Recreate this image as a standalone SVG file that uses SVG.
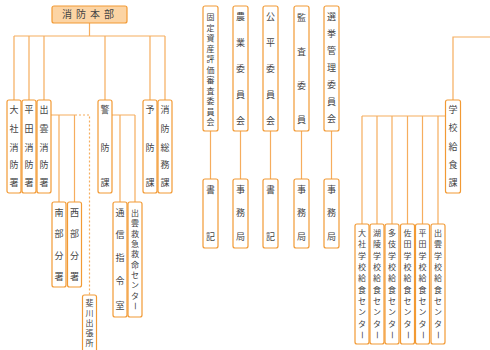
<svg xmlns="http://www.w3.org/2000/svg" width="490" height="350" viewBox="0 0 490 350">
<style>
.b{fill:#fff;stroke:#f29a34;stroke-width:1.2}
.l{fill:none;stroke:#f6ad5e;stroke-width:1.2}
.d{fill:none;stroke:#f6ad5e;stroke-width:1.2;stroke-dasharray:2 2}
text{font-family:"Noto Sans CJK JP","Noto Sans",sans-serif;font-size:9px;fill:#444;text-anchor:middle}
text.s{font-size:8px}
</style>
<rect width="490" height="350" fill="#fff"/>
<g id="connectors">
<path class="l" d="M89.5 23V36M14 36H165M14 36V100M29 36V100M44 36V100M105 36V100M150 36V100M165 36V100"/>
<path class="l" d="M51 115H75M59 115V202M74.5 115V202"/>
<path class="d" d="M75 115H89.5V295"/>
<path class="l" d="M112 115H135M120 115V202M135 115V202"/>
<path class="l" d="M210.5 131V179M240.5 131V179M270.5 131V179M301.5 131V179M331.5 131V179"/>
<path class="l" d="M490 37H453V100"/>
<path class="l" d="M362 116H445M362 116V224M377 116V224M392 116V224M407.5 116V224M422.5 116V224M438 116V224"/>
</g>
<g id="honbu"><rect class="b" x="52" y="6" width="75" height="17" rx="2" style="fill:#fcd4a4"/><text x="90" y="18" style="font-size:10px;letter-spacing:4px">消防本部</text></g>
<g id="taisha"><rect class="b" x="7" y="100" width="14" height="93" rx="2"/><text><tspan x="14" y="113.4">大</tspan><tspan x="14" y="132.4">社</tspan><tspan x="14" y="151.4">消</tspan><tspan x="14" y="168.4">防</tspan><tspan x="14" y="186.4">署</tspan></text></g>
<g id="hirata"><rect class="b" x="22" y="100" width="14" height="93" rx="2"/><text><tspan x="29" y="113.4">平</tspan><tspan x="29" y="132.4">田</tspan><tspan x="29" y="151.4">消</tspan><tspan x="29" y="168.4">防</tspan><tspan x="29" y="186.4">署</tspan></text></g>
<g id="izumo"><rect class="b" x="37" y="100" width="14" height="93" rx="2"/><text><tspan x="44" y="113.4">出</tspan><tspan x="44" y="132.4">雲</tspan><tspan x="44" y="151.4">消</tspan><tspan x="44" y="168.4">防</tspan><tspan x="44" y="186.4">署</tspan></text></g>
<g id="keibo"><rect class="b" x="98" y="100" width="14" height="93" rx="2"/><text><tspan x="105" y="113.4">警</tspan><tspan x="105" y="151.4">防</tspan><tspan x="105" y="186.4">課</tspan></text></g>
<g id="yobo"><rect class="b" x="143" y="100" width="14" height="93" rx="2"/><text><tspan x="150" y="113.4">予</tspan><tspan x="150" y="151.4">防</tspan><tspan x="150" y="186.4">課</tspan></text></g>
<g id="somu"><rect class="b" x="158" y="100" width="14" height="93" rx="2"/><text><tspan x="165" y="113.4">消</tspan><tspan x="165" y="132.4">防</tspan><tspan x="165" y="151.4">総</tspan><tspan x="165" y="168.4">務</tspan><tspan x="165" y="186.4">課</tspan></text></g>
<g id="nanbu"><rect class="b" x="52" y="202" width="14" height="85" rx="2"/><text><tspan x="59" y="216.4">南</tspan><tspan x="59" y="237.4">部</tspan><tspan x="59" y="259.4">分</tspan><tspan x="59" y="280.4">署</tspan></text></g>
<g id="seibu"><rect class="b" x="67.5" y="202" width="14" height="85" rx="2"/><text><tspan x="74.5" y="216.4">西</tspan><tspan x="74.5" y="237.4">部</tspan><tspan x="74.5" y="259.4">分</tspan><tspan x="74.5" y="280.4">署</tspan></text></g>
<g id="hikawa"><rect class="b" x="82.5" y="295" width="14" height="60" rx="2"/><text class="s"><tspan x="89.5" y="306">斐</tspan><tspan x="89.5" y="316">川</tspan><tspan x="89.5" y="326">出</tspan><tspan x="89.5" y="336">張</tspan><tspan x="89.5" y="346">所</tspan></text></g>
<g id="tsushin"><rect class="b" x="113" y="202" width="14" height="115" rx="2"/><text><tspan x="120" y="216.4">通</tspan><tspan x="120" y="238.4">信</tspan><tspan x="120" y="261.4">指</tspan><tspan x="120" y="284.4">令</tspan><tspan x="120" y="309.4">室</tspan></text></g>
<g id="kyumei"><rect class="b" x="128" y="202" width="14" height="115" rx="2"/><text class="s"><tspan x="135" y="216">出</tspan><tspan x="135" y="226.3">雲</tspan><tspan x="135" y="236.7">救</tspan><tspan x="135" y="247">急</tspan><tspan x="135" y="257.3">救</tspan><tspan x="135" y="267.7">命</tspan><tspan x="135" y="278">セ</tspan><tspan x="135" y="288.3">ン</tspan><tspan x="135" y="298.7">タ</tspan></text><text class="s" transform="translate(135 306) rotate(90)" y="3">ー</text></g>
<g id="kotei"><rect class="b" x="203" y="6" width="15" height="125" rx="2"/><text class="s"><tspan x="210.5" y="20">固</tspan><tspan x="210.5" y="30.5">定</tspan><tspan x="210.5" y="41">資</tspan><tspan x="210.5" y="51.5">産</tspan><tspan x="210.5" y="62">評</tspan><tspan x="210.5" y="72.5">価</tspan><tspan x="210.5" y="83">審</tspan><tspan x="210.5" y="93.5">査</tspan><tspan x="210.5" y="104">委</tspan><tspan x="210.5" y="114.5">員</tspan><tspan x="210.5" y="125">会</tspan></text></g>
<g id="nogyo"><rect class="b" x="233" y="6" width="15" height="125" rx="2"/><text><tspan x="240.5" y="20.4">農</tspan><tspan x="240.5" y="46.4">業</tspan><tspan x="240.5" y="72.4">委</tspan><tspan x="240.5" y="98.4">員</tspan><tspan x="240.5" y="124.4">会</tspan></text></g>
<g id="kohei"><rect class="b" x="263" y="6" width="15" height="125" rx="2"/><text><tspan x="270.5" y="20.4">公</tspan><tspan x="270.5" y="46.4">平</tspan><tspan x="270.5" y="72.4">委</tspan><tspan x="270.5" y="98.4">員</tspan><tspan x="270.5" y="124.4">会</tspan></text></g>
<g id="kansa"><rect class="b" x="294" y="6" width="15" height="125" rx="2"/><text><tspan x="301.5" y="21.4">監</tspan><tspan x="301.5" y="55.4">査</tspan><tspan x="301.5" y="89.4">委</tspan><tspan x="301.5" y="123.4">員</tspan></text></g>
<g id="senkyo"><rect class="b" x="324" y="6" width="15" height="125" rx="2"/><text><tspan x="331.5" y="20.4">選</tspan><tspan x="331.5" y="37.4">挙</tspan><tspan x="331.5" y="54.4">管</tspan><tspan x="331.5" y="71.4">理</tspan><tspan x="331.5" y="88.4">委</tspan><tspan x="331.5" y="105.4">員</tspan><tspan x="331.5" y="122.4">会</tspan></text></g>
<g id="shoki1"><rect class="b" x="203" y="179" width="15" height="69" rx="2"/><text><tspan x="210.5" y="193.4">書</tspan><tspan x="210.5" y="240.4">記</tspan></text></g>
<g id="jimu1"><rect class="b" x="233" y="179" width="15" height="69" rx="2"/><text><tspan x="240.5" y="193.4">事</tspan><tspan x="240.5" y="216.4">務</tspan><tspan x="240.5" y="240.4">局</tspan></text></g>
<g id="shoki2"><rect class="b" x="263" y="179" width="15" height="69" rx="2"/><text><tspan x="270.5" y="193.4">書</tspan><tspan x="270.5" y="240.4">記</tspan></text></g>
<g id="jimu2"><rect class="b" x="294" y="179" width="15" height="69" rx="2"/><text><tspan x="301.5" y="193.4">事</tspan><tspan x="301.5" y="216.4">務</tspan><tspan x="301.5" y="240.4">局</tspan></text></g>
<g id="jimu3"><rect class="b" x="324" y="179" width="15" height="69" rx="2"/><text><tspan x="331.5" y="193.4">事</tspan><tspan x="331.5" y="216.4">務</tspan><tspan x="331.5" y="240.4">局</tspan></text></g>
<g id="gakko"><rect class="b" x="445.5" y="100" width="15" height="93" rx="2"/><text><tspan x="453" y="113.4">学</tspan><tspan x="453" y="131.4">校</tspan><tspan x="453" y="150.4">給</tspan><tspan x="453" y="168.4">食</tspan><tspan x="453" y="186.4">課</tspan></text></g>
<g id="c1"><rect class="b" x="355" y="224" width="14" height="120" rx="2"/><text class="s"><tspan x="362" y="236">大</tspan><tspan x="362" y="247.3">社</tspan><tspan x="362" y="258.7">学</tspan><tspan x="362" y="270">校</tspan><tspan x="362" y="281.3">給</tspan><tspan x="362" y="292.7">食</tspan><tspan x="362" y="304">セ</tspan><tspan x="362" y="315.3">ン</tspan><tspan x="362" y="326.7">タ</tspan></text><text class="s" transform="translate(362 335) rotate(90)" y="3">ー</text></g>
<g id="c2"><rect class="b" x="370" y="224" width="14" height="120" rx="2"/><text class="s"><tspan x="377" y="236">湖</tspan><tspan x="377" y="247.3">陵</tspan><tspan x="377" y="258.7">学</tspan><tspan x="377" y="270">校</tspan><tspan x="377" y="281.3">給</tspan><tspan x="377" y="292.7">食</tspan><tspan x="377" y="304">セ</tspan><tspan x="377" y="315.3">ン</tspan><tspan x="377" y="326.7">タ</tspan></text><text class="s" transform="translate(377 335) rotate(90)" y="3">ー</text></g>
<g id="c3"><rect class="b" x="385" y="224" width="14" height="120" rx="2"/><text class="s"><tspan x="392" y="236">多</tspan><tspan x="392" y="247.3">伎</tspan><tspan x="392" y="258.7">学</tspan><tspan x="392" y="270">校</tspan><tspan x="392" y="281.3">給</tspan><tspan x="392" y="292.7">食</tspan><tspan x="392" y="304">セ</tspan><tspan x="392" y="315.3">ン</tspan><tspan x="392" y="326.7">タ</tspan></text><text class="s" transform="translate(392 335) rotate(90)" y="3">ー</text></g>
<g id="c4"><rect class="b" x="400.5" y="224" width="14" height="120" rx="2"/><text class="s"><tspan x="407.5" y="236">佐</tspan><tspan x="407.5" y="247.3">田</tspan><tspan x="407.5" y="258.7">学</tspan><tspan x="407.5" y="270">校</tspan><tspan x="407.5" y="281.3">給</tspan><tspan x="407.5" y="292.7">食</tspan><tspan x="407.5" y="304">セ</tspan><tspan x="407.5" y="315.3">ン</tspan><tspan x="407.5" y="326.7">タ</tspan></text><text class="s" transform="translate(407.5 335) rotate(90)" y="3">ー</text></g>
<g id="c5"><rect class="b" x="415.5" y="224" width="14" height="120" rx="2"/><text class="s"><tspan x="422.5" y="236">平</tspan><tspan x="422.5" y="247.3">田</tspan><tspan x="422.5" y="258.7">学</tspan><tspan x="422.5" y="270">校</tspan><tspan x="422.5" y="281.3">給</tspan><tspan x="422.5" y="292.7">食</tspan><tspan x="422.5" y="304">セ</tspan><tspan x="422.5" y="315.3">ン</tspan><tspan x="422.5" y="326.7">タ</tspan></text><text class="s" transform="translate(422.5 335) rotate(90)" y="3">ー</text></g>
<g id="c6"><rect class="b" x="431" y="224" width="14" height="120" rx="2"/><text class="s"><tspan x="438" y="236">出</tspan><tspan x="438" y="247.3">雲</tspan><tspan x="438" y="258.7">学</tspan><tspan x="438" y="270">校</tspan><tspan x="438" y="281.3">給</tspan><tspan x="438" y="292.7">食</tspan><tspan x="438" y="304">セ</tspan><tspan x="438" y="315.3">ン</tspan><tspan x="438" y="326.7">タ</tspan></text><text class="s" transform="translate(438 335) rotate(90)" y="3">ー</text></g>
</svg>
